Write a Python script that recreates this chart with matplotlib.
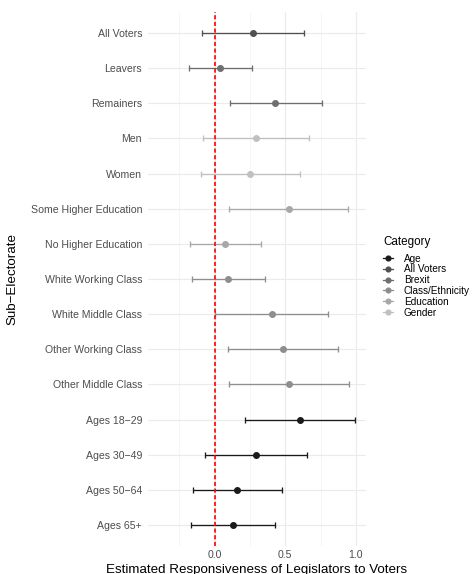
#!/usr/bin/env python3
import matplotlib
matplotlib.use('Agg')
import matplotlib.pyplot as plt
from matplotlib.lines import Line2D

plt.rcParams['font.family'] = ['Liberation Sans', 'DejaVu Sans']

# Sub-electorates, top to bottom
groups = ['All Voters', 'Leavers', 'Remainers', 'Men', 'Women',
          'Some Higher Education', 'No Higher Education',
          'White Working Class', 'White Middle Class',
          'Other Working Class', 'Other Middle Class',
          'Ages 18\u221229', 'Ages 30\u221249', 'Ages 50\u221264', 'Ages 65+']
group_category = ['All Voters', 'Brexit', 'Brexit', 'Gender', 'Gender',
                  'Education', 'Education',
                  'Class/Ethnicity', 'Class/Ethnicity',
                  'Class/Ethnicity', 'Class/Ethnicity',
                  'Age', 'Age', 'Age', 'Age']
estimate = [0.274, 0.040, 0.429, 0.292, 0.252, 0.524, 0.075, 0.097,
            0.406, 0.486, 0.526, 0.604, 0.292, 0.160, 0.132]
lower = [-0.087, -0.179, 0.106, -0.080, -0.097, 0.104, -0.175, -0.163,
         0.000, 0.097, 0.101, 0.215, -0.071, -0.156, -0.165]
upper = [0.634, 0.264, 0.757, 0.667, 0.604, 0.946, 0.328, 0.358,
         0.804, 0.877, 0.950, 0.993, 0.653, 0.476, 0.425]

categories = ['Age', 'All Voters', 'Brexit', 'Class/Ethnicity', 'Education', 'Gender']
cat_colors = ['#1a1a1a', '#505050', '#6e6e6e', '#8e8e8e', '#a8a8a8', '#c0c0c0']
color_of = dict(zip(categories, cat_colors))

W, H = 474, 574
fig = plt.figure(figsize=(W / 100, H / 100), dpi=100)
# panel placed in pixel coordinates
left, right, top, bottom = 148, 366, 12, 546
ax = fig.add_axes([left / W, 1 - bottom / H, (right - left) / W, (bottom - top) / H])

ypos = list(range(len(groups)))

# grid like theme_minimal
for gx in [0.0, 0.5, 1.0]:
    ax.axvline(gx, color='#ebebeb', lw=0.8, zorder=0)
for gx in [-0.25, 0.25, 0.75]:
    ax.axvline(gx, color='#f2f2f2', lw=0.5, zorder=0)
for gy in ypos:
    ax.axhline(gy, color='#ebebeb', lw=0.8, zorder=0)

# error bars and point estimates
for y, est, lo, hi, cat in zip(ypos, estimate, lower, upper, group_category):
    c = color_of[cat]
    ax.errorbar([est], [y], xerr=[[est - lo], [hi - est]], fmt='o', color=c,
                ecolor=c, elinewidth=0.95, capsize=2.3, capthick=0.95,
                markersize=4.0, zorder=3)

# reference line at zero
ax.axvline(0, color='red', lw=1.2, linestyle=(0, (2.5, 1.5)), zorder=5)

ax.set_xlim(-0.472, 1.072)
ax.set_ylim(len(groups) - 1 + 0.6, -0.6)
ax.set_xticks([0.0, 0.5, 1.0])
ax.set_xticklabels(['0.0', '0.5', '1.0'])
ax.set_yticks(ypos)
ax.set_yticklabels(groups)
ax.tick_params(axis='both', length=0, labelsize=7.6, labelcolor='#4d4d4d')
ax.tick_params(axis='x', pad=3.2)
ax.tick_params(axis='y', pad=4.3)
for s in ax.spines.values():
    s.set_visible(False)

fig.text(12 / W, 1 - 279 / H, 'Sub\u2212Electorate', rotation=90,
         ha='center', va='center', fontsize=9.6)
fig.text(257 / W, 1 - 572.5 / H, 'Estimated Responsiveness of Legislators to Voters',
         ha='center', va='baseline', fontsize=9.6)

# legend: title as separate text, keys below
fig.text(383 / W, 1 - 245 / H, 'Category', ha='left', va='baseline', fontsize=8.4)
handles = [Line2D([0], [0], color=c, marker='o', markersize=3.4, lw=0.9)
           for c in cat_colors]
fig.legend(handles, categories, loc='upper left',
           bbox_to_anchor=(383 / W, 1 - 253.5 / H), frameon=False,
           fontsize=7.2, handlelength=1.0, handletextpad=1.1,
           labelspacing=0.08, borderpad=0, borderaxespad=0)

fig.savefig('out.png', dpi=100)
